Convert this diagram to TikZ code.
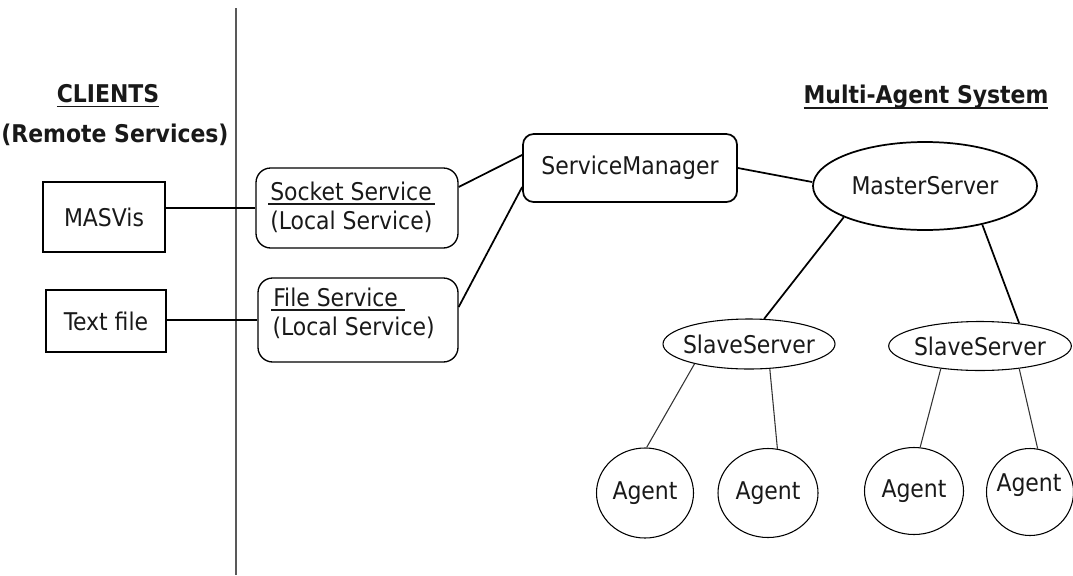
\documentclass[tikz,border=0pt]{standalone}
\usepackage{fontspec}
\setmainfont{DejaVu Sans Condensed}[BoldFont={DejaVu Sans Condensed Bold}]
\usetikzlibrary{shapes.geometric}
% underline drawn as a heavier rule a little below the baseline
\newcommand\ulbar[1]{\leavevmode\vtop{\hbox{\raisebox{0pt}[\height][0pt]{#1}}\kern2.4pt\hrule height 1.1pt}}

\begin{document}
\begin{tikzpicture}[x=0.75pt,y=-0.75pt,
  every node/.style={font=\fontsize{18.3}{21.75}\selectfont, inner sep=0pt, text=black!90},
  title/.style={font=\fontsize{18.3}{21.75}\selectfont\bfseries},
  client/.style={draw, line width=1.1pt},
  service/.style={draw, line width=1pt, rounded corners=11pt},
  manager/.style={draw, line width=1.3pt, rounded corners=8pt},
  master/.style={draw, ellipse, line width=1.3pt},
  slave/.style={draw, ellipse, line width=0.8pt},
  agent/.style={draw, ellipse, line width=0.8pt},
  txt/.style={align=left},
  link/.style={line width=1.3pt},
  sublink/.style={line width=0.8pt, black!80},
  divider/.style={line width=1.1pt, black!65}
]
\useasboundingbox (0,0) rectangle (1073,575);

% separator between clients and the system
\coordinate (divtop) at (236,8);
\coordinate (divbot) at (236,575);
\draw[divider] (divtop) -- (divbot);

% headings
\node[title] (clients) at (108,96) {\ulbar{CLIENTS}};
\node[title] (remote) at (115,135) {(Remote Services)};
\node[title] (mas) at (926,97) {\ulbar{Multi-Agent System}};

% clients
\node[client, minimum width=91.5pt, minimum height=52.5pt] (masvis) at (104,217) {MASVis};
\node[client, minimum width=90pt, minimum height=46.5pt] (textfile) at (106,321) {Text file};

% local services
\node[service, minimum width=151.5pt, minimum height=60pt] (socket) at (357,208) {};
\node[txt, anchor=west] (sockettxt) at (268,207) {\ulbar{\kern1.5pt Socket Service\kern2.5pt}\\\kern1.5pt(Local Service)};
\node[service, minimum width=150pt, minimum height=63pt] (file) at (358,320) {};
\node[txt, anchor=west] (filetxt) at (271,313) {\ulbar{\kern1.5pt File Service\kern5pt}\\\kern1pt(Local Service)};

% service manager and servers
\node[manager, minimum width=160.5pt, minimum height=51pt] (sm) at (630,168) {ServiceManager};
\node[master, minimum width=168pt, minimum height=66pt, label={center:MasterServer}] (master) at (925,186) {};
\node[slave, minimum width=129pt, minimum height=37.5pt, label={center:SlaveServer}] (slave1) at (749,344) {};
\node[slave, minimum width=137pt, minimum height=36.75pt, label={center:SlaveServer}] (slave2) at (980,346) {};

% agents
\node[agent, minimum width=72.75pt, minimum height=67.5pt, label={center:Agent}] (agent1) at (645,493) {};
\node[agent, minimum width=75pt, minimum height=66.75pt, label={center:Agent}] (agent2) at (768,493) {};
\node[agent, minimum width=74.25pt, minimum height=65.25pt, label={center:Agent}] (agent3) at (914,491) {};
\node[agent, minimum width=65.25pt, minimum height=65.25pt] (agent4) at (1030,492) {};
\node (agent4txt) at (1029,485) {Agent};

% connections
\draw[link] (socket.west) -- (socket.west -| masvis.east);
\draw[link] (file.west) -- (file.west -| textfile.east);
\draw[link] ([yshift=15.75pt]socket.east) -- ([yshift=9.75pt]sm.west);
\draw[link] ([yshift=9.75pt]file.east) -- ([yshift=-14.25pt]sm.west);
\draw[link] (sm.east) -- ([yshift=3pt]master.west);
\draw[link] (master.201) -- (slave1.59);
\draw[link] (master.326) -- (slave2.30);
\draw[sublink] (slave1.200) -- (agent1.88);
\draw[sublink] (slave1.310) -- (agent2.78);
\draw[sublink] (slave2.210) -- (agent3.82);
\draw[sublink] (slave2.330) -- (agent4.80);
\end{tikzpicture}
\end{document}
